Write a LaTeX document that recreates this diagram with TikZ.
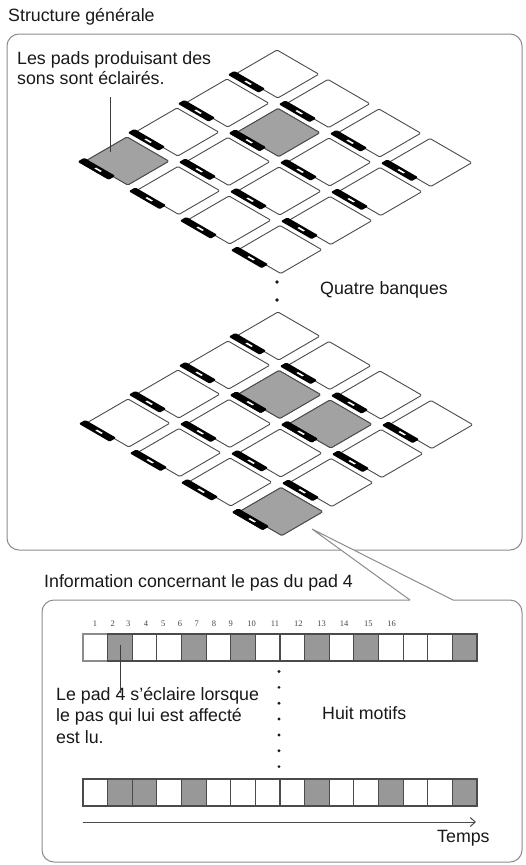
\documentclass[tikz,border=0pt]{standalone}
\usepackage{fontspec}
\setmainfont{Liberation Sans}
\newfontfamily\numfont{Liberation Serif}
\usetikzlibrary{arrows.meta}
\definecolor{padgrey}{RGB}{162,162,162}
\definecolor{cellgrey}{RGB}{152,152,152}
\definecolor{edgegrey}{RGB}{75,75,75}
\definecolor{boxgrey}{RGB}{140,140,140}
\definecolor{txt}{RGB}{25,25,25}
\tikzset{
  padshape/.style={draw=edgegrey, line width=0.9pt, rounded corners=1.2pt},
  txtfont/.style={font=\fontsize{17.8}{21}\selectfont, text=txt, inner sep=0pt, anchor=base west},
  numstyle/.style={font=\numfont\fontsize{8.5}{9}\selectfont, text=txt!80, inner sep=0pt, anchor=center},
  boxline/.style={draw=boxgrey, line width=1pt, rounded corners=12pt},
  leader/.style={draw=txt!85, line width=0.8pt},
  cellbox/.style={draw=edgegrey, line width=1.1pt},
  arrowline/.style={draw=edgegrey, line width=1pt, -{Straight Barb[length=5pt,width=9pt]}}
}
\newcommand\padat[3]{%
  \begin{scope}[shift={(#1,#2)}, x={(41.8pt,-24.2pt)}, y={(-41pt,-23.8pt)}]
    \filldraw[padshape, fill=#3] (0,0) -- (1,0) -- (1,1) -- (0,1) -- cycle;
    \fill[black, rounded corners=1.2pt] (-0.08,0.96) -- (0.66,0.96) -- (0.66,1.12) -- (-0.08,1.12) -- cycle;
    \fill[white] (0.26,1.02) -- (0.40,1.02) -- (0.40,1.06) -- (0.26,1.06) -- cycle;
  \end{scope}}
\newcommand\drawbank[3]{%
  \foreach \i in {0,...,3}{\foreach \j in {0,...,3}{%
    \pgfmathsetmacro\px{#1+51*\i-50*\j}%
    \pgfmathsetmacro\py{#2+29.5*\i+29*\j}%
    \padat{\px}{\py}{white}}}%
  \foreach \i/\j in {#3}{%
    \pgfmathsetmacro\px{#1+51*\i-50*\j}%
    \pgfmathsetmacro\py{#2+29.5*\i+29*\j}%
    \padat{\px}{\py}{padgrey}}}
\begin{document}
\begin{tikzpicture}[x=1pt,y=-1pt]
\useasboundingbox (0,0) rectangle (526,865);
\fill[white] (0,0) rectangle (526,865);

% ---------- top part ----------
\node[txtfont] (title) at (8,21) {Structure générale};
\draw[boxline] (7,34) rectangle (522,550);

\drawbank{277}{50}{1/1,0/3}
\drawbank{278}{312}{1/1,2/1,3/3}

\node[txtfont] (lbl1) at (17,64) {Les pads produisant des};
\node[txtfont] (lbl2) at (17,84.5) {sons sont éclairés.};
\coordinate (leadA) at (110,97);
\coordinate (leadB) at (110,152);
\draw[leader] (leadA) -- (leadB);

\fill[txt] (277,282) circle[radius=1.8pt];
\fill[txt] (277,300) circle[radius=1.8pt];
\node[txtfont] (banks) at (320,294) {Quatre banques};

% ---------- callout ----------
\coordinate (apex) at (312,529);
\coordinate (w1) at (410,600);
\coordinate (w2) at (453,600);
\fill[white] (apex) -- (w1) -- (w2) -- cycle;
\draw[draw=boxgrey, line width=1pt] (w1) -- (apex) -- (w2);
\draw[boxline] (w1) -- (42,600) -- (42,862) -- (522,862) -- (522,600) -- (w2);

% ---------- bottom part ----------
\node[txtfont] (info) at (44,587) {Information concernant le pas du pad 4};

\foreach \n/\xx in {1/95,2/112.7,3/128.3,4/146,5/163.3,6/180,7/196.7,8/214,9/230.7,10/251.7,11/275,12/298.3,13/321.7,14/344,15/368.3,16/391.7}
  \node[numstyle] (num\n) at (\xx,624) {\n};

% row 1
\draw[draw=boxgrey, line width=1.1pt, fill=white] (83,634) rectangle (107.625,661);
\foreach \k in {1,...,15}{
  \pgfmathsetmacro\xa{83+24.625*\k}
  \pgfmathsetmacro\xb{83+24.625*(\k+1)}
  \draw[cellbox, fill=white] (\xa,634) rectangle (\xb,661);
}
\foreach \k in {1,4,6,9,11,15}{
  \pgfmathsetmacro\xa{83+24.625*\k}
  \pgfmathsetmacro\xb{83+24.625*(\k+1)}
  \draw[cellbox, fill=cellgrey] (\xa,634) rectangle (\xb,661);
}
% row 2
\foreach \k in {0,...,15}{
  \pgfmathsetmacro\xa{83+24.625*\k}
  \pgfmathsetmacro\xb{83+24.625*(\k+1)}
  \draw[cellbox, fill=white] (\xa,779) rectangle (\xb,806);
}
\foreach \k in {1,2,4,9,12,15}{
  \pgfmathsetmacro\xa{83+24.625*\k}
  \pgfmathsetmacro\xb{83+24.625*(\k+1)}
  \draw[cellbox, fill=cellgrey] (\xa,779) rectangle (\xb,806);
}

\foreach \k in {0,...,6}
  \fill[txt] (279,{671.5+15.85*\k}) circle[radius=1.6pt];

\node[txtfont] (note1) at (56,700) {Le pad 4 s’éclaire lorsque};
\node[txtfont] (note2) at (56,721.5) {le pas qui lui est affecté};
\node[txtfont] (note3) at (56,743) {est lu.};
\coordinate (leadC) at (120,645);
\coordinate (leadD) at (120,693);
\draw[leader] (leadC) -- (leadD);

\node[txtfont] (huit) at (322,719) {Huit motifs};

\coordinate (ta) at (83,822);
\coordinate (tb) at (476,822);
\draw[arrowline] (ta) -- (tb);
\node[txtfont] (temps) at (437,842) {Temps};
\end{tikzpicture}
\end{document}
